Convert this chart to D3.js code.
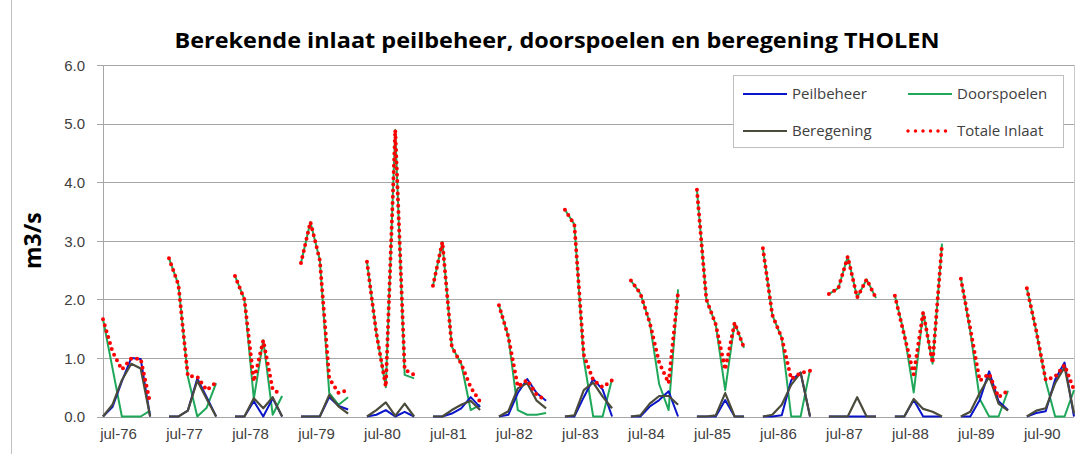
<!DOCTYPE html>
<html>
<head>
<meta charset="utf-8">
<script src="https://cdn.jsdelivr.net/npm/d3@7"></script>
<style>
  body { margin: 0; background: #fff; }
  svg { font-family: "Open Sans", "Noto Sans", sans-serif; }
  .grid line { stroke: #a6a6a6; stroke-width: 1; }
  .axis text { fill: #404040; font-size: 15px; }
</style>
</head>
<body>
<div id="vis"></div>
<script>
// years shown, six months (apr - sep) per year, one empty slot between years
const years = ["76","77","78","79","80","81","82","83","84","85","86","87","88","89","90"];
const xLabels = years.map((y) => "jul-" + y);
const yTicks = [0, 1, 2, 3, 4, 5, 6];

// values per year (m3/s)
const peilbeheer = [
  [0, 0.16, 0.6, 1.0, 0.98, 0],
  [0, 0, 0.1, 0.65, 0.33, 0],
  [0, 0, 0.26, 0, 0.31, 0],
  [0, 0, 0, 0.33, 0.18, 0.12],
  [0, 0.03, 0.11, 0, 0.08, 0],
  [0, 0, 0.05, 0.14, 0.33, 0.16],
  [0, 0.03, 0.4, 0.64, 0.4, 0.27],
  [0, 0, 0.33, 0.64, 0.46, 0],
  [0, 0, 0.17, 0.28, 0.43, 0],
  [0, 0, 0, 0.28, 0, 0],
  [0, 0, 0.02, 0.62, 0.75, 0],
  [0, 0, 0, 0, 0, 0],
  [0, 0, 0.28, 0, 0, 0],
  [0, 0, 0.28, 0.77, 0.26, 0.11],
  [0, 0.06, 0.09, 0.63, 0.92, 0]
];
const doorspoelen = [
  [1.66, 0.83, 0, 0, 0, 0.1],
  [2.70, 2.25, 0.68, 0, 0.15, 0.57],
  [2.40, 2.0, 0.3, 1.3, 0.03, 0.35],
  [2.62, 3.32, 2.67, 0.4, 0.2, 0.33],
  [2.64, 1.42, 0.5, 4.89, 0.71, 0.65],
  [2.23, 2.98, 1.19, 0.9, 0.11, 0.2],
  [1.90, 1.36, 0.11, 0.03, 0.03, 0.06],
  [3.53, 3.28, 0.97, 0, 0, 0.64],
  [2.32, 2.10, 1.6, 0.55, 0.11, 2.17],
  [3.87, 2.0, 1.57, 0.45, 1.6, 1.17],
  [2.87, 1.73, 1.34, 0, 0, 0.8],
  [2.09, 2.19, 2.73, 2.03, 2.34, 2.02],
  [2.06, 1.41, 0.41, 1.78, 0.9, 2.95],
  [2.36, 1.45, 0.3, 0, 0, 0.44],
  [2.19, 1.45, 0.6, 0, 0, 0.45]
];
const beregening = [
  [0, 0.2, 0.62, 0.9, 0.82, 0],
  [0, 0, 0.1, 0.61, 0.3, 0],
  [0, 0, 0.31, 0.14, 0.33, 0],
  [0, 0, 0, 0.37, 0.17, 0.05],
  [0, 0.11, 0.24, 0.01, 0.22, 0],
  [0, 0, 0.11, 0.2, 0.27, 0.11],
  [0, 0.09, 0.48, 0.57, 0.27, 0.14],
  [0, 0.02, 0.45, 0.58, 0.34, 0.14],
  [0, 0.02, 0.22, 0.35, 0.35, 0.2],
  [0, 0, 0.02, 0.4, 0, 0],
  [0, 0.03, 0.2, 0.54, 0.75, 0],
  [0, 0, 0, 0.33, 0, 0],
  [0, 0, 0.3, 0.13, 0.08, 0],
  [0, 0.08, 0.4, 0.68, 0.22, 0.1],
  [0, 0.1, 0.14, 0.57, 0.84, 0.05]
];
const totaal = [
  [1.66, 1.11, 0.8, 0.99, 0.98, 0.23],
  [2.70, 2.25, 0.69, 0.68, 0.45, 0.58],
  [2.40, 2.0, 0.6, 1.3, 0.46, 0.37],
  [2.62, 3.32, 2.67, 0.65, 0.4, 0.45],
  [2.64, 1.42, 0.51, 4.89, 0.8, 0.71],
  [2.23, 2.98, 1.19, 0.9, 0.5, 0.25],
  [1.90, 1.36, 0.51, 0.62, 0.37, 0.28],
  [3.53, 3.28, 1.05, 0.62, 0.5, 0.62],
  [2.32, 2.10, 1.6, 0.92, 0.57, 2.12],
  [3.87, 2.0, 1.57, 0.8, 1.6, 1.17],
  [2.87, 1.73, 1.34, 0.64, 0.74, 0.78],
  [2.09, 2.19, 2.73, 2.03, 2.34, 2.02],
  [2.06, 1.38, 0.72, 1.78, 0.91, 2.95],
  [2.35, 1.5, 0.61, 0.73, 0.33, 0.44],
  [2.19, 1.46, 0.62, 0.68, 0.88, 0.45]
];

const FRAME_WIDTH = 1092;
const FRAME_HEIGHT = 454;
const MARGINS = {left: 103, right: 18, top: 65, bottom: 37.5};
const PER_YEAR = 7; // 6 months + 1 empty slot

const svg = d3.select("#vis")
  .append("svg")
    .attr("width", FRAME_WIDTH)
    .attr("height", FRAME_HEIGHT);

const X_SCALE = d3.scaleLinear()
  .domain([0, years.length * PER_YEAR - 2])
  .range([MARGINS.left, FRAME_WIDTH - MARGINS.right]);

const Y_SCALE = d3.scaleLinear()
  .domain([0, 6])
  .range([FRAME_HEIGHT - MARGINS.bottom, MARGINS.top]);

// turn the per year lists into points with a gap after each year
function toPoints(series) {
  let pts = [];
  series.forEach((yr, k) => {
    yr.forEach((v, m) => pts.push({i: k * PER_YEAR + m, v: v}));
    pts.push({i: k * PER_YEAR + 6, v: null});
  });
  return pts;
}

// chart frame line on the left
svg.append("line")
  .attr("x1", 11.5).attr("x2", 11.5)
  .attr("y1", 0).attr("y2", FRAME_HEIGHT)
  .attr("stroke", "#bfbfbf");

// gridlines
svg.append("g")
  .attr("class", "grid")
  .selectAll("line")
  .data(yTicks)
  .enter()
  .append("line")
    .attr("x1", MARGINS.left - 6)
    .attr("x2", FRAME_WIDTH - MARGINS.right)
    .attr("y1", (d) => Math.round(Y_SCALE(d)) + 0.5)
    .attr("y2", (d) => Math.round(Y_SCALE(d)) + 0.5);

// y axis line and right border of plot
svg.append("line")
  .attr("x1", MARGINS.left + 0.5).attr("x2", MARGINS.left + 0.5)
  .attr("y1", MARGINS.top).attr("y2", Y_SCALE(0))
  .attr("stroke", "#a6a6a6");
svg.append("line")
  .attr("x1", FRAME_WIDTH - MARGINS.right + 0.5).attr("x2", FRAME_WIDTH - MARGINS.right + 0.5)
  .attr("y1", MARGINS.top).attr("y2", Y_SCALE(0))
  .attr("stroke", "#c8c8c8");

// y axis labels
const yAxis = svg.append("g")
  .attr("class", "axis")
  .attr("transform", "translate(" + (MARGINS.left - 15) + ",0)")
  .call(d3.axisLeft(Y_SCALE).tickValues(yTicks).tickFormat(d3.format(".1f")).tickSize(0));
yAxis.select(".domain").remove();
yAxis.selectAll("text").attr("dy", "0.35em");

// x axis labels
const xAxis = svg.append("g")
  .attr("class", "axis")
  .attr("transform", "translate(0," + Y_SCALE(0) + ")")
  .call(d3.axisBottom(X_SCALE)
    .tickValues(years.map((y, k) => k * PER_YEAR))
    .tickFormat((d, k) => xLabels[k])
    .tickSize(0));
xAxis.select(".domain").remove();
xAxis.selectAll("text").attr("dx", 15).attr("dy", "1.3em");

// lines
const line = d3.line()
  .defined((d) => d.v !== null)
  .x((d) => X_SCALE(d.i))
  .y((d) => Y_SCALE(d.v));

const SERIES = [
  {name: "Doorspoelen", data: doorspoelen, color: "#1fa85a", width: 2, dash: null},
  {name: "Peilbeheer", data: peilbeheer, color: "#0a14c8", width: 2, dash: null},
  {name: "Beregening", data: beregening, color: "#4b4b3c", width: 2.2, dash: null},
  {name: "Totale Inlaat", data: totaal, color: "#ff0000", width: 4, dash: "0 6.2"}
];

SERIES.forEach((s) => {
  svg.append("path")
    .datum(toPoints(s.data))
    .attr("d", line)
    .attr("fill", "none")
    .attr("stroke", s.color)
    .attr("stroke-width", s.width)
    .attr("stroke-linejoin", "round")
    .attr("stroke-linecap", s.dash ? "round" : "butt")
    .attr("stroke-dasharray", s.dash);
});

// title
svg.append("text")
  .attr("x", 557)
  .attr("y", 48)
  .attr("text-anchor", "middle")
  .attr("font-size", "22px")
  .attr("font-weight", "bold")
  .attr("fill", "#000")
  .attr("textLength", 765)
  .attr("lengthAdjust", "spacingAndGlyphs")
  .text("Berekende inlaat peilbeheer, doorspoelen en beregening THOLEN");

// y axis title
svg.append("text")
  .attr("transform", "translate(41," + ((MARGINS.top + Y_SCALE(0)) / 2) + ") rotate(-90)")
  .attr("text-anchor", "middle")
  .attr("font-size", "23px")
  .attr("font-weight", "bold")
  .attr("fill", "#000")
  .text("m3/s");

// legend
const legend = svg.append("g").attr("transform", "translate(733,75)");
legend.append("rect")
  .attr("x", 0.5).attr("y", 0.5)
  .attr("width", 330).attr("height", 72)
  .attr("fill", "#fff")
  .attr("stroke", "#bfbfbf");

const LEGEND_ORDER = ["Peilbeheer", "Doorspoelen", "Beregening", "Totale Inlaat"];
LEGEND_ORDER.forEach((name, n) => {
  const s = SERIES.find((d) => d.name === name);
  const lx = 10 + (n % 2) * 165;
  const ly = 19 + Math.floor(n / 2) * 37;
  legend.append("line")
    .attr("x1", lx).attr("x2", lx + 44)
    .attr("y1", ly).attr("y2", ly)
    .attr("stroke", s.color)
    .attr("stroke-width", s.dash ? 3.5 : 2)
    .attr("stroke-linecap", s.dash ? "round" : "butt")
    .attr("stroke-dasharray", s.dash ? "0 7.5" : null);
  legend.append("text")
    .attr("x", lx + 49)
    .attr("y", ly)
    .attr("dy", "0.35em")
    .attr("font-size", "15px")
    .attr("fill", "#404040")
    .text(name);
});
</script>
</body>
</html>
